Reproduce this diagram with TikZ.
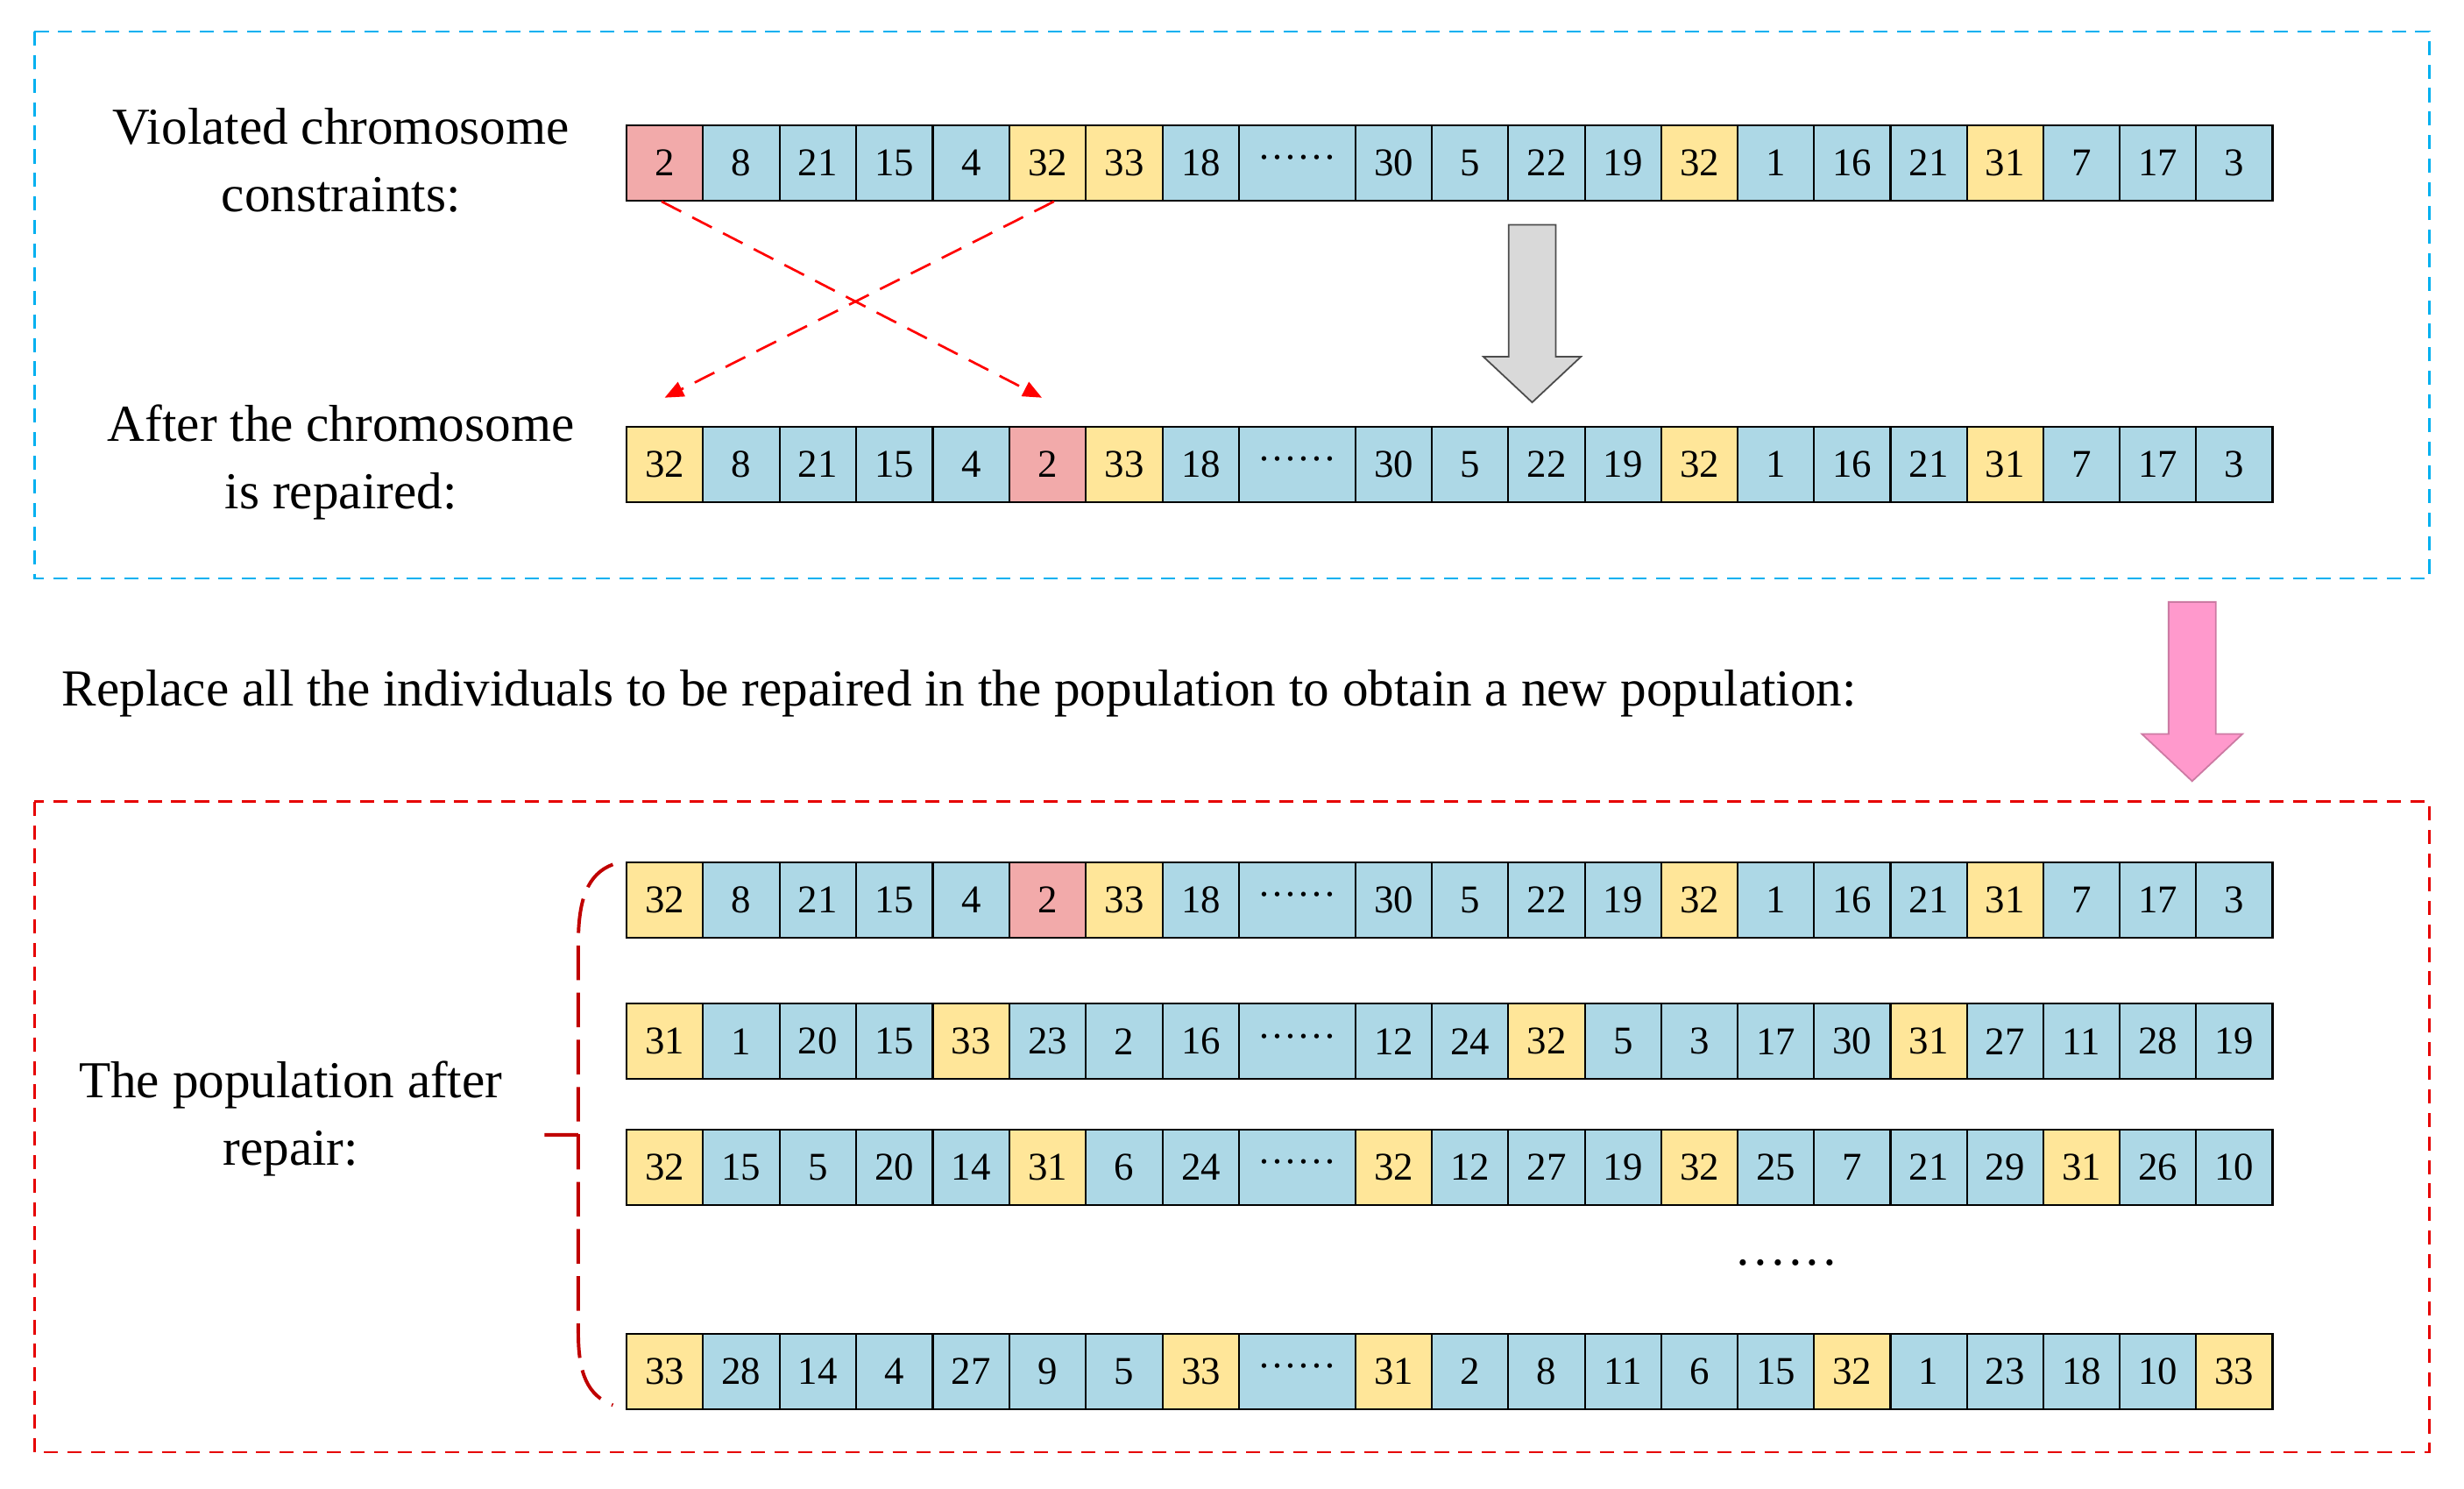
\documentclass[tikz,border=0pt]{standalone}
\usepackage{fontspec}
\setmainfont{Liberation Serif}
\usetikzlibrary{arrows.meta}
\definecolor{cb}{RGB}{173,216,230}
\definecolor{cy}{RGB}{255,230,153}
\definecolor{cp}{RGB}{242,170,170}
\definecolor{boxblue}{RGB}{0,176,240}
\definecolor{boxred}{RGB}{230,0,0}
\definecolor{bracered}{RGB}{192,0,0}
\definecolor{pinkarrow}{RGB}{255,153,204}
\tikzset{
 cell/.style={draw=black,line width=1.2pt,inner sep=0pt,minimum height=48pt,font=\fontsize{25}{25}\selectfont},
 lbl/.style={align=center,font=\fontsize{33}{43}\selectfont},
 frame/.style={dashed,line width=1.5pt,dash pattern=on 9pt off 6pt},
}
\newcommand{\chrow}[3]{%
 \foreach \v/\c [count=\i] in {#3}{%
  \ifnum\i<9 \pgfmathsetmacro{\xl}{398+(\i-1)*48.75}\pgfmathsetmacro{\w}{48.75}\fi
  \ifnum\i=9 \pgfmathsetmacro{\xl}{788}\pgfmathsetmacro{\w}{74}\fi
  \ifnum\i>9 \pgfmathsetmacro{\xl}{862+(\i-10)*48.63}\pgfmathsetmacro{\w}{48.63}\fi
  \node[cell,fill=c\c,minimum width=\w pt,anchor=north west] (#1c\i) at (\xl,#2) {\v};
 }}
\begin{document}
\begin{tikzpicture}[x=1pt,y=-1pt]
\useasboundingbox (0,0) rectangle (1568,947);
\draw[frame,boxblue] (22,20) rectangle (1546,368);
\draw[frame,boxred] (22,510) rectangle (1546,924);
\node[lbl] (t1) at (217,102) {Violated chromosome\\constraints:};
\node[lbl] (t2) at (217,294) {After the chromosome\\is repaired:};
\node[lbl,anchor=west] (t3) at (36,441) {Replace all the individuals to be repaired in the population to obtain a new population:};
\node[lbl] (t4) at (185,712) {The population after\\repair:};
\node[font=\fontsize{33}{33}\selectfont] (dd) at (1137,808) {······};
\chrow{a}{79}{2/p,8/b,21/b,15/b,4/b,32/y,33/y,18/b,······/b,30/b,5/b,22/b,19/b,32/y,1/b,16/b,21/b,31/y,7/b,17/b,3/b}
\chrow{b}{271}{32/y,8/b,21/b,15/b,4/b,2/p,33/y,18/b,······/b,30/b,5/b,22/b,19/b,32/y,1/b,16/b,21/b,31/y,7/b,17/b,3/b}
\chrow{c}{548}{32/y,8/b,21/b,15/b,4/b,2/p,33/y,18/b,······/b,30/b,5/b,22/b,19/b,32/y,1/b,16/b,21/b,31/y,7/b,17/b,3/b}
\chrow{d}{638}{31/y,1/b,20/b,15/b,33/y,23/b,2/b,16/b,······/b,12/b,24/b,32/y,5/b,3/b,17/b,30/b,31/y,27/b,11/b,28/b,19/b}
\chrow{e}{718}{32/y,15/b,5/b,20/b,14/b,31/y,6/b,24/b,······/b,32/y,12/b,27/b,19/b,32/y,25/b,7/b,21/b,29/b,31/y,26/b,10/b}
\chrow{f}{848}{33/y,28/b,14/b,4/b,27/b,9/b,5/b,33/y,······/b,31/y,2/b,8/b,11/b,6/b,15/b,32/y,1/b,23/b,18/b,10/b,33/y}
% crossing arrows
\coordinate (e1) at (663,253);
\coordinate (e2) at (423,253);
\draw[red,line width=1.5pt,dash pattern=on 14pt off 8pt,-{Triangle[length=12pt,width=10pt]}] ([xshift=-2pt]ac1.south) -- (e1);
\draw[red,line width=1.5pt,dash pattern=on 14pt off 8pt,-{Triangle[length=12pt,width=10pt]}] ([xshift=4pt]ac6.south) -- (e2);
% gray arrow
\draw[fill=gray!30,draw=gray!60!black,line width=1pt] (960,143) -- (990,143) -- (990,227) -- (1006,227) -- (975,256) -- (944,227) -- (960,227) -- cycle;
% pink arrow
\draw[fill=pinkarrow,draw=pinkarrow!80!black,line width=1pt] (1380,383) -- (1410,383) -- (1410,467) -- (1427,467) -- (1395,497) -- (1363,467) -- (1380,467) -- cycle;
% brace
\draw[bracered,line width=2.2pt,dash pattern=on 22pt off 8pt] (390,550) .. controls (374,556) and (368,572) .. (368,600) -- (368,722) -- (340,722);
\draw[bracered,line width=2.2pt,dash pattern=on 22pt off 8pt] (368,722) -- (368,848) .. controls (368,874) and (374,888) .. (390,894);
\end{tikzpicture}
\end{document}
